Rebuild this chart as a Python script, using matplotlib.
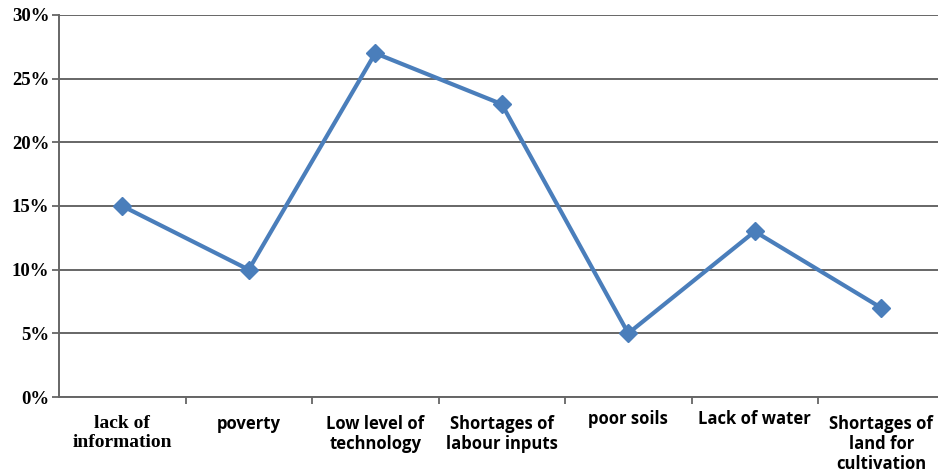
import matplotlib

matplotlib.use("Agg")
import matplotlib.pyplot as plt
from matplotlib.ticker import FuncFormatter, FixedLocator

categories = [
    "lack of\ninformation",
    "poverty",
    "Low level of\ntechnology",
    "Shortages of\nlabour inputs",
    "poor soils",
    "Lack of water",
    "Shortages of\nland for\ncultivation",
]
shares = [0.15, 0.10, 0.27, 0.23, 0.05, 0.13, 0.07]
y_ticks = [0.0, 0.05, 0.10, 0.15, 0.20, 0.25, 0.30]

LINE = "#4A7EBB"
GRID = "#666666"

fig = plt.figure(figsize=(9.38, 4.72), dpi=100)
ax = fig.add_axes([59 / 938, 75 / 472, 885.5 / 938, 382 / 472])

x = list(range(len(categories)))
ax.plot(x, shares, color=LINE, lw=3.0, marker="D", markersize=9,
        markerfacecolor=LINE, markeredgecolor=LINE, clip_on=False, zorder=3)

ax.set_xlim(-0.5, len(categories) - 0.5)
ax.set_ylim(0, 0.30)
ax.set_yticks(y_ticks)
ax.yaxis.set_major_formatter(FuncFormatter(lambda v, _: f"{round(v * 100)}%"))
for lab in ax.get_yticklabels():
    lab.set_fontfamily("Liberation Serif")
    lab.set_fontweight("bold")
    lab.set_fontsize(13.5)
ax.tick_params(axis="y", length=5, width=1.3, color=GRID, pad=2)
ax.grid(axis="y", color=GRID, lw=1.4)
ax.set_axisbelow(True)

ax.set_xticks([])
ax.xaxis.set_minor_locator(FixedLocator([i + 0.5 for i in range(len(categories) - 1)]))
ax.tick_params(axis="x", which="minor", length=5, width=1.3, color=GRID)

for side in ("top", "right"):
    ax.spines[side].set_visible(False)
for side in ("left", "bottom"):
    ax.spines[side].set_color(GRID)
    ax.spines[side].set_linewidth(1.4)

# label offsets below the axis (points)
offsets = [-13, -13, -13, -13, -9.5, -9.5, -13]
for i, (lab, off) in enumerate(zip(categories, offsets)):
    if i == 0:
        kw = dict(family="Liberation Serif", fontsize=14)
    else:
        kw = dict(family="Open Sans", fontsize=12)
    ax.annotate(lab, xy=(i, 0), xycoords=("data", "axes fraction"),
                xytext=(0, off), textcoords="offset points",
                ha="center", va="top", fontweight="bold",
                linespacing=1.15, annotation_clip=False, **kw)

fig.savefig("out.png", dpi=100)
